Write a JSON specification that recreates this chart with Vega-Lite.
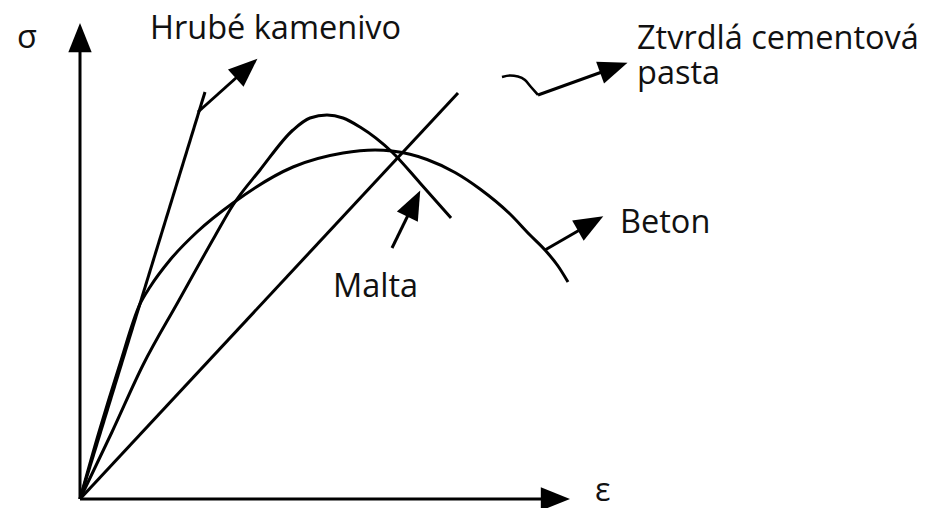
{
  "$schema": "https://vega.github.io/schema/vega-lite/v6.json",
  "width": 930,
  "height": 508,
  "padding": 0,
  "autosize": {"type": "none"},
  "background": "#ffffff",
  "config": {"view": {"stroke": null}},
  "datasets": {
    "curves": [
      {"series": "Hrubé kamenivo", "e": 0, "s": 0},
      {"series": "Hrubé kamenivo", "e": 12.5, "s": 40.7},
      {"series": "Ztvrdlá cementová pasta", "e": 0, "s": 0},
      {"series": "Ztvrdlá cementová pasta", "e": 37.8, "s": 40.6},
      {"series": "Malta", "e": 0, "s": 0},
      {"series": "Malta", "e": 3.2, "s": 6.7},
      {"series": "Malta", "e": 6.3, "s": 13.4},
      {"series": "Malta", "e": 9.8, "s": 19.7},
      {"series": "Malta", "e": 13.5, "s": 26.3},
      {"series": "Malta", "e": 15.3, "s": 29.4},
      {"series": "Malta", "e": 18.0, "s": 32.9},
      {"series": "Malta", "e": 21.3, "s": 36.9},
      {"series": "Malta", "e": 23.0, "s": 38.1},
      {"series": "Malta", "e": 24.7, "s": 38.4},
      {"series": "Malta", "e": 26.3, "s": 38.1},
      {"series": "Malta", "e": 28.0, "s": 37.2},
      {"series": "Malta", "e": 31.2, "s": 34.7},
      {"series": "Malta", "e": 34.0, "s": 31.6},
      {"series": "Malta", "e": 37.1, "s": 28.1},
      {"series": "Beton", "e": 0, "s": 0},
      {"series": "Beton", "e": 1.9, "s": 6.7},
      {"series": "Beton", "e": 3.9, "s": 13.2},
      {"series": "Beton", "e": 6.0, "s": 19.5},
      {"series": "Beton", "e": 7.0, "s": 21.2},
      {"series": "Beton", "e": 9.0, "s": 23.9},
      {"series": "Beton", "e": 11.7, "s": 26.7},
      {"series": "Beton", "e": 15.3, "s": 29.6},
      {"series": "Beton", "e": 21.3, "s": 33.2},
      {"series": "Beton", "e": 26.3, "s": 34.6},
      {"series": "Beton", "e": 29.5, "s": 34.9},
      {"series": "Beton", "e": 31.2, "s": 34.8},
      {"series": "Beton", "e": 33.0, "s": 34.47},
      {"series": "Beton", "e": 34.7, "s": 33.95},
      {"series": "Beton", "e": 37.5, "s": 32.65},
      {"series": "Beton", "e": 40.0, "s": 31.0},
      {"series": "Beton", "e": 43.0, "s": 28.5},
      {"series": "Beton", "e": 45.0, "s": 26.4},
      {"series": "Beton", "e": 46.5, "s": 24.9},
      {"series": "Beton", "e": 47.8, "s": 23.3},
      {"series": "Beton", "e": 48.8, "s": 21.7}
    ],
    "squiggle": [
      {"k": 1, "e": 42.2, "s": 42.2},
      {"k": 2, "e": 43.0, "s": 42.35},
      {"k": 3, "e": 43.8, "s": 42.25},
      {"k": 4, "e": 44.5, "s": 41.9},
      {"k": 5, "e": 45.1, "s": 41.2},
      {"k": 6, "e": 45.8, "s": 40.4}
    ],
    "arrows": [
      {"name": "σ osa", "e": 0, "s": 0, "e2": 0, "s2": 46.0, "dir": 0, "he": 0, "hs": 46.14},
      {"name": "ε osa", "e": 0, "s": 0, "e2": 47.4, "s2": 0, "dir": 90, "he": 47.54, "hs": 0},
      {"name": "Hrubé kamenivo", "e": 11.8, "s": 38.7, "e2": 16.6, "s2": 43.0, "dir": 48.1, "he": 16.66, "hs": 43.06},
      {"name": "Ztvrdlá cementová pasta", "e": 45.8, "s": 40.4, "e2": 53.3, "s2": 43.1, "dir": 70.2, "he": 53.38, "hs": 43.13},
      {"name": "Beton", "e": 46.5, "s": 24.9, "e2": 51.0, "s2": 27.5, "dir": 60.5, "he": 51.06, "hs": 27.56},
      {"name": "Malta", "e": 31.2, "s": 25.1, "e2": 33.35, "s2": 29.5, "dir": 26.2, "he": 33.38, "hs": 29.54}
    ],
    "labels": [
      {"label": "σ", "e": -6.3, "s": 45.1},
      {"label": "ε", "e": 51.5, "s": -0.2},
      {"label": "Hrubé kamenivo", "e": 7.0, "s": 46.0},
      {"label": "Ztvrdlá cementová", "e": 55.7, "s": 45.0},
      {"label": "pasta", "e": 55.7, "s": 41.5},
      {"label": "Beton", "e": 54.0, "s": 26.6},
      {"label": "Malta", "e": 25.3, "s": 20.2}
    ]
  },
  "encoding": {
    "x": {"field": "e", "type": "quantitative", "scale": {"domain": [-8, 85], "nice": false, "zero": false}, "axis": null},
    "y": {"field": "s", "type": "quantitative", "scale": {"domain": [-0.9, 49.9], "nice": false, "zero": false}, "axis": null}
  },
  "layer": [
    {
      "data": {"name": "curves"},
      "mark": {"type": "line", "interpolate": "monotone", "color": "#000000", "strokeWidth": 3},
      "encoding": {"detail": {"field": "series", "type": "nominal"}}
    },
    {
      "data": {"name": "squiggle"},
      "mark": {"type": "line", "interpolate": "monotone", "color": "#000000", "strokeWidth": 2.6},
      "encoding": {"order": {"field": "k", "type": "quantitative"}}
    },
    {
      "data": {"name": "arrows"},
      "mark": {"type": "rule", "color": "#000000", "strokeWidth": 3},
      "encoding": {
        "x2": {"field": "e2"},
        "y2": {"field": "s2"}
      }
    },
    {
      "data": {"name": "arrows"},
      "mark": {"type": "point", "shape": "M0,-1L0.8,1L-0.8,1Z", "filled": true, "color": "#000000", "opacity": 1, "size": 850},
      "encoding": {
        "x": {"field": "he", "type": "quantitative"},
        "y": {"field": "hs", "type": "quantitative"},
        "angle": {"field": "dir", "type": "quantitative", "scale": null}
      }
    },
    {
      "data": {"name": "labels"},
      "mark": {"type": "text", "font": "Open Sans", "fontSize": 32.5, "fontWeight": 500, "align": "left", "baseline": "alphabetic", "color": "#111111"},
      "encoding": {"text": {"field": "label", "type": "nominal"}}
    }
  ]
}
